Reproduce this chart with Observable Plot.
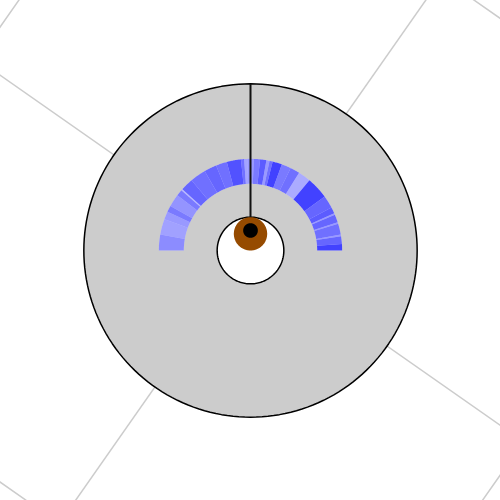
<!DOCTYPE html>
<html>
<head>
<meta charset="utf-8">
<script src="https://cdn.jsdelivr.net/npm/d3@7"></script>
<script src="https://cdn.jsdelivr.net/npm/@observablehq/plot@0.6"></script>
<style>
  html, body { margin: 0; padding: 0; background: white; overflow: hidden; }
</style>
</head>
<body>
<div id="chart"></div>
<script>
// ---- data ----
// band wedges: angle (degrees) measured from the left end, over the top, to the right end
const bandStart   = [0, 10, 20, 25, 29, 37, 41, 42, 50, 60, 68, 75, 84, 86, 88, 92, 96, 100, 102, 104, 110, 116, 122, 130, 144, 152, 156, 157, 162, 163, 170, 171, 176];
const bandEnd     = [10, 20, 25, 29, 37, 41, 42, 50, 60, 68, 75, 84, 86, 88, 92, 96, 100, 102, 104, 110, 116, 122, 130, 144, 152, 156, 157, 162, 163, 170, 171, 176, 180];
const bandOpacity = [0.45, 0.37, 0.4, 0.52, 0.42, 0.52, 0.28, 0.6, 0.56, 0.6, 0.56, 0.68, 0.56, 0.36, 0.4, 0.52, 0.64, 0.4, 0.56, 0.74, 0.52, 0.56, 0.33, 0.74, 0.6, 0.64, 0.4, 0.6, 0.4, 0.56, 0.4, 0.6, 0.74];
const bandRadii = [0.4, 0.55];

const circleNames   = ["disk", "hole", "iris", "pupil"];
const circleCx      = [0, 0, 0, 0];
const circleCy      = [0, 0, 0.1, 0.12];
const circleR       = [1, 0.2, 0.1, 0.044];

const guideRotation = 35;   // degrees
const guideExtent   = 2;    // half-size of the rotated square
const stemTop = 1, stemBottom = 0.12;

// ---- geometry helpers ----
const rad = d => d * Math.PI / 180;
function circlePts(name, cx, cy, r, n = 180) {
  return d3.range(n).map(i => {
    const a = 2 * Math.PI * i / n;
    return {name, x: cx + r * Math.cos(a), y: cy + r * Math.sin(a)};
  });
}
const circles = circleNames.map((nm, i) => circlePts(nm, circleCx[i], circleCy[i], circleR[i]));
const circleByName = Object.fromEntries(circleNames.map((nm, i) => [nm, circles[i]]));

function wedgePts(id, t0, t1, o) {
  const steps = Math.max(2, Math.ceil((t1 - t0) * 2));
  const outer = d3.range(steps + 1).map(k => 180 - (t0 + (t1 - t0) * k / steps));
  const inner = outer.slice().reverse();
  return [
    ...outer.map(p => ({id, o, x: bandRadii[1] * Math.cos(rad(p)), y: bandRadii[1] * Math.sin(rad(p))})),
    ...inner.map(p => ({id, o, x: bandRadii[0] * Math.cos(rad(p)), y: bandRadii[0] * Math.sin(rad(p))}))
  ];
}
const wedges = bandStart.flatMap((t0, i) => wedgePts(i, t0, bandEnd[i], bandOpacity[i]));
const bandBase = wedgePts(-1, bandStart[0], bandEnd[bandEnd.length - 1], 1);

// rotated square and cross
const square = [45, 135, 225, 315, 45].map(a => {
  const r = guideExtent * Math.SQRT2, p = rad(a - guideRotation);
  return {x: r * Math.cos(p), y: r * Math.sin(p)};
});
const cross = [0, 90].map(a => {
  const p = rad(a - guideRotation);
  return {x1: -guideExtent * Math.cos(p), y1: -guideExtent * Math.sin(p), x2: guideExtent * Math.cos(p), y2: guideExtent * Math.sin(p)};
});
const stem = [{x1: 0, y1: stemTop, x2: 0, y2: stemBottom}];

const chart = Plot.plot({
  width: 500,
  height: 500,
  margin: 0,
  x: {domain: [-1.5, 1.5], axis: null},
  y: {domain: [-1.5, 1.5], axis: null},
  marks: [
    Plot.line(square, {x: "x", y: "y", stroke: "#cccccc", strokeWidth: 1.5, clip: "frame"}),
    Plot.link(cross, {x1: "x1", y1: "y1", x2: "x2", y2: "y2", stroke: "#cccccc", strokeWidth: 1.5, clip: "frame"}),
    Plot.line(circleByName.disk, {x: "x", y: "y", curve: "linear-closed", fill: "#cccccc", stroke: "black", strokeWidth: 1.5}),
    Plot.line(bandBase, {x: "x", y: "y", curve: "linear-closed", fill: "white", stroke: "none"}),
    Plot.line(wedges, {x: "x", y: "y", z: "id", curve: "linear-closed", fill: "blue", fillOpacity: "o", stroke: "none"}),
    Plot.line(circleByName.hole, {x: "x", y: "y", curve: "linear-closed", fill: "white", stroke: "black", strokeWidth: 1.5}),
    Plot.link(stem, {x1: "x1", y1: "y1", x2: "x2", y2: "y2", stroke: "#111", strokeWidth: 2}),
    Plot.line(circleByName.iris, {x: "x", y: "y", curve: "linear-closed", fill: "#964B00", stroke: "none"}),
    Plot.line(circleByName.pupil, {x: "x", y: "y", curve: "linear-closed", fill: "black", stroke: "none"})
  ]
});
document.getElementById("chart").appendChild(chart);
</script>
</body>
</html>
